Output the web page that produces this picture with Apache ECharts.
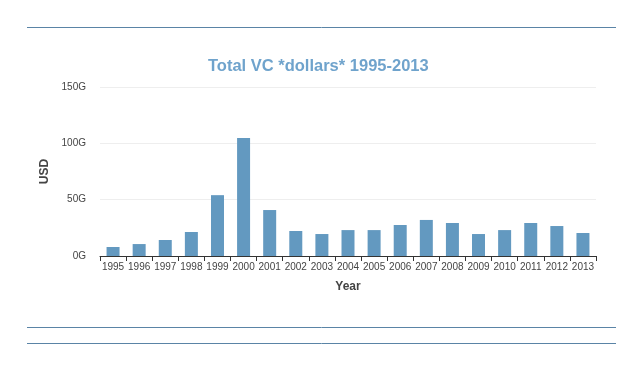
<!DOCTYPE html>
<html>
<head>
<meta charset="utf-8">
<script src="https://cdn.jsdelivr.net/npm/echarts@6/dist/echarts.min.js"></script>
<style>html,body{margin:0;padding:0;background:#fff;}#c{width:638px;height:371px;}</style>
</head>
<body>
<div id="c"></div>
<script>
var years = ['1995','1996','1997','1998','1999','2000','2001','2002','2003','2004','2005','2006','2007','2008','2009','2010','2011','2012','2013'];
var totalVC = [8, 10.6, 14.2, 21.3, 54, 104.7, 40.8, 22.2, 19.5, 23, 23, 27.5, 32, 29.3, 19.5, 23, 29.3, 26.6, 20.4];
var yTicks = [0, 50, 100, 150];

var chart = echarts.init(document.getElementById('c'));
chart.setOption({
  animation: false,
  title: {
    text: 'Total VC *dollars* 1995-2013',
    left: 203, top: 53,
    textStyle: {color: '#6fa3cc', fontSize: 16.5, fontWeight: 'bold', fontFamily: 'Liberation Sans, Arial, sans-serif'}
  },
  graphic: [
    {type: 'line', shape: {x1: 27, y1: 27.5, x2: 616, y2: 27.5}, style: {stroke: '#5a84a6', lineWidth: 1}},
    {type: 'line', shape: {x1: 27, y1: 327.5, x2: 616, y2: 327.5}, style: {stroke: '#5a84a6', lineWidth: 1}},
    {type: 'line', shape: {x1: 27, y1: 343.5, x2: 616, y2: 343.5}, style: {stroke: '#5a84a6', lineWidth: 1}}
  ],
  grid: {left: 100, right: 42, top: 87, bottom: 115},
  xAxis: {
    type: 'category', data: years,
    name: 'Year', nameLocation: 'middle', nameGap: 25,
    nameTextStyle: {color: '#444', fontSize: 12, fontWeight: 'bold', fontFamily: 'Liberation Sans, Arial, sans-serif'},
    axisLine: {lineStyle: {color: '#333', width: 1}},
    axisTick: {show: true, length: 5, lineStyle: {color: '#333'}},
    axisLabel: {color: '#444', fontSize: 10, margin: 6, interval: 0, fontFamily: 'Liberation Sans, Arial, sans-serif'}
  },
  yAxis: {
    type: 'value', min: yTicks[0], max: yTicks[yTicks.length - 1], interval: yTicks[1] - yTicks[0],
    name: 'USD', nameLocation: 'middle', nameGap: 43,
    nameTextStyle: {color: '#444', fontSize: 12, fontWeight: 'bold', fontFamily: 'Liberation Sans, Arial, sans-serif'},
    axisLine: {show: false}, axisTick: {show: false},
    splitLine: {lineStyle: {color: '#eeeeee'}},
    axisLabel: {color: '#444', fontSize: 10, margin: 14, fontFamily: 'Liberation Sans, Arial, sans-serif',
      formatter: function(v){ return v + 'G'; }}
  },
  series: [{
    type: 'bar', data: totalVC, barWidth: 13,
    itemStyle: {color: '#6399c0'}
  }]
});
</script>
</body>
</html>
